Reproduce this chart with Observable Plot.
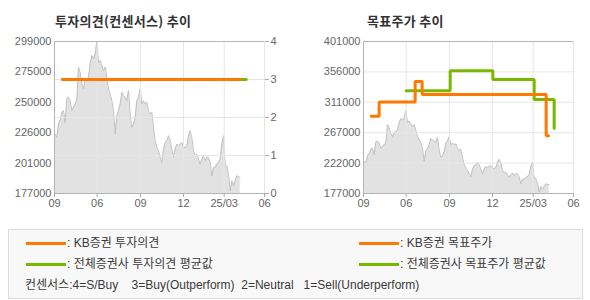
<!DOCTYPE html>
<html><head><meta charset="utf-8">
<script src="https://cdn.jsdelivr.net/npm/d3@7"></script>
<script src="https://cdn.jsdelivr.net/npm/@observablehq/plot@0.6"></script>
<style>
body{margin:0;background:#fff;font-family:"Liberation Sans","Noto Sans CJK KR",sans-serif;}
#wrap{position:relative;width:590px;height:300px;overflow:hidden;background:#fff;}
.title{position:absolute;top:12px;font-weight:bold;font-size:13px;letter-spacing:0.3px;font-family:"Noto Sans CJK KR",sans-serif;color:#333;line-height:17px;white-space:nowrap;}
.chart{position:absolute;top:30px;}
#legend{position:absolute;left:8px;top:229px;width:573px;height:68px;border:1px solid #dcdcdc;background:#f8f8f8;}
.lg{position:absolute;height:3px;width:40px;}
.lt{position:absolute;font-size:12px;line-height:14px;color:#3a3a3a;white-space:pre;font-family:"Liberation Sans","Noto Sans CJK KR",sans-serif;}
</style></head>
<body><div id="wrap">
<div class="title" style="left:55px">투자의견(컨센서스) 추이</div>
<div class="title" style="left:367px">목표주가 추이</div>
<div id="c1" class="chart" style="left:0px"></div>
<div id="c2" class="chart" style="left:295px"></div>
<div id="legend"></div>
<div class="lg" style="left:26px;top:242px;background:#ff7800"></div>
<div class="lt" style="left:67px;top:236px">: KB증권 투자의견</div>
<div class="lg" style="left:26px;top:263px;background:#78b900"></div>
<div class="lt" style="left:67px;top:257px">: 전체증권사 투자의견 평균값</div>
<div class="lg" style="left:359px;top:242px;background:#ff7800"></div>
<div class="lt" style="left:400px;top:236px">: KB증권 목표주가</div>
<div class="lg" style="left:359px;top:263px;background:#78b900"></div>
<div class="lt" style="left:400px;top:257px">: 전체증권사 목표주가 평균값</div>
<div class="lt" style="left:25px;top:278px">컨센서스:4=S/Buy    3=Buy(Outperform)  2=Neutral   1=Sell(Underperform)</div>
</div>
<script>
// ---- data ----
const xDomain = [-0.4, 125.6];
const tickPos = [-0.4, 25.2, 51.2, 77, 101.4, 125.6];
const tickLabels = ["09", "06", "09", "12", "25/03", "06"];
const price = [224700,222000,232800,235500,242200,243500,234100,252900,254200,251500,
243500,246200,248900,251500,278400,274300,264900,260900,267600,267600,
270300,281000,287700,285100,289100,299000,282000,283700,279700,275700,
278400,270300,260900,256900,251500,243500,224700,239500,243500,248900,
258200,255600,254200,251500,259600,240800,230100,232800,238100,251500,
254200,260900,248900,251500,248900,250200,243500,240800,242200,230100,
219400,214000,211300,206000,201900,212700,218000,219400,223400,219400,
212700,206000,212700,216700,215300,216700,218000,214000,214000,215300,
223400,227400,222000,211300,207300,208600,204600,200600,204600,207300,
203300,206000,206000,201900,191200,197900,197900,200600,201900,204600,
216700,223400,200600,199300,192600,179100,187200,183200,187200,191200,
190400,189900];
const opinionDomain = [0, 4];
const opinionTicks = [0, 1, 2, 3, 4];
const priceDomainL = [177000, 299000];
const priceDomainR = [177000, 401000];
const kbOpinionX = [4.4, 111];
const kbOpinionV = [3, 3];
const avgOpinionX = [4.4, 114.6];
const avgOpinionV = [3, 3];
const kbTargetX = [4.2, 9, 30.6, 34.8, 109.2, 110.6];
const kbTargetV = [291000, 312000, 342000, 323000, 262000, 262000];
const avgTargetX = [25.2, 51.6, 77.2, 102, 114];
const avgTargetV = [328500, 358000, 345000, 315500, 273000];

const ORANGE = "#ff7800", GREEN = "#78b900";
const FONT = '"Liberation Sans","Noto Sans CJK KR",sans-serif';
const priceRows = price.map((v, i) => ({x: i, v}));
const zip = (xs, vs) => xs.map((x, i) => ({x, v: vs[i]}));
const ticks5 = ([lo, hi]) => d3.range(6).map(k => lo + k * (hi - lo) / 5);
const fmtK = d => String(Math.round(d / 1000) * 1000);

function base(dom, extra) {
  const [lo, hi] = dom;
  return [
    Plot.areaY(priceRows, {x: "x", y1: lo, y2: "v", fill: "#e2e2e2"}),
    Plot.lineY(priceRows, {x: "x", y: "v", stroke: "#c2c2c2", strokeWidth: 1}),
    ...extra.grid,
    Plot.gridX(tickPos, {stroke: "#e6e6e6", strokeOpacity: 1}),
    Plot.ruleY([hi], {stroke: "#b4b4b4"}),
    Plot.ruleY([lo], {stroke: "#b4b4b4"}),
    Plot.ruleX([xDomain[0]], {stroke: "#b4b4b4"}),
    Plot.axisX(tickPos, {label: null, tickFormat: (d, i) => tickLabels[i], tickSize: 4, tickPadding: 2, stroke: "#aaa", fill: "#666", fontSize: 11}),
    Plot.axisY(ticks5(dom), {label: null, anchor: "left", tickSize: 0, tickPadding: 3, tickFormat: fmtK, fill: "#666", fontSize: 11}),
    ...extra.marks
  ];
}

// Left chart: consensus on secondary (0-4) axis mapped into price scale
const [lL, hL] = priceDomainL;
const cons = v => lL + (v - opinionDomain[0]) / (opinionDomain[1] - opinionDomain[0]) * (hL - lL);
const consInv = d => Math.round((d - lL) / (hL - lL) * (opinionDomain[1] - opinionDomain[0]) + opinionDomain[0]);
const left = Plot.plot({
  width: 295, height: 190,
  marginLeft: 54, marginRight: 31, marginTop: 11, marginBottom: 27,
  x: {domain: xDomain, label: null},
  y: {domain: priceDomainL, label: null},
  style: {fontFamily: FONT, fontSize: "11px", color: "#666", background: "transparent"},
  marks: base(priceDomainL, {
    grid: [Plot.gridY(opinionTicks.map(cons), {stroke: "#e6e6e6", strokeOpacity: 1})],
    marks: [
      Plot.axisY(opinionTicks.map(cons), {label: null, anchor: "right", tickSize: 4, tickPadding: 2, stroke: "#aaa", fill: "#666", tickFormat: consInv, fontSize: 11}),
      Plot.line(zip(avgOpinionX, avgOpinionV), {x: "x", y: d => cons(d.v), stroke: GREEN, strokeWidth: 3}),
      Plot.line(zip(kbOpinionX, kbOpinionV), {x: "x", y: d => cons(d.v), stroke: ORANGE, strokeWidth: 3})
    ]
  })
});
document.getElementById("c1").appendChild(left);

const right = Plot.plot({
  width: 295, height: 190,
  marginLeft: 68, marginRight: 17, marginTop: 11, marginBottom: 27,
  x: {domain: xDomain, label: null},
  y: {domain: priceDomainR, label: null},
  style: {fontFamily: FONT, fontSize: "11px", color: "#666", background: "transparent"},
  marks: base(priceDomainR, {
    grid: [Plot.gridY(ticks5(priceDomainR).slice(1, 5), {stroke: "#e6e6e6", strokeOpacity: 1})],
    marks: [
      Plot.line(zip(avgTargetX, avgTargetV), {x: "x", y: "v", curve: "step-after", stroke: GREEN, strokeWidth: 3, strokeLinejoin: "miter"}),
      Plot.line(zip(kbTargetX, kbTargetV), {x: "x", y: "v", curve: "step-after", stroke: ORANGE, strokeWidth: 3, strokeLinejoin: "miter"})
    ]
  })
});
document.getElementById("c2").appendChild(right);
</script>
</body></html>
